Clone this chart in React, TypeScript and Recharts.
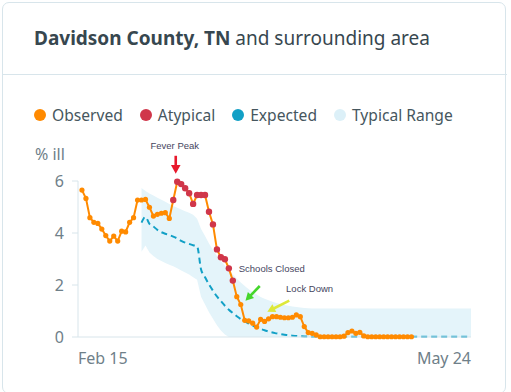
import React from 'react';
import {
  ComposedChart,
  Line,
  Area,
  XAxis,
  YAxis,
  ReferenceDot
} from 'recharts';

// Day 0 = Feb 15, day 99 = May 24
const xTicks = [0, 99];
const xTickLabels = ['Feb 15', 'May 24'];
const yTicks = [0, 2, 4, 6];

// Observed % ill, one value per day starting at day 1 (Feb 16)
const observedStart = 1;
const observed = [
  5.65, 5.33, 4.59, 4.41, 4.37, 4.15, 3.9, 3.69, 3.88, 3.69,
  4.07, 4.04, 4.41, 4.59, 5.27, 5.27, 5.29, 4.99, 4.65, 4.72,
  4.76, 4.78, 4.56, 5.27, 5.97, 5.88, 5.72, 5.53, 5.12, 5.46,
  5.46, 5.46, 4.82, 4.33, 3.37, 3.07, 2.99, 2.64, 2.17, 1.55,
  1.25, 0.64, 0.62, 0.53, 0.38, 0.68, 0.6, 0.7, 0.78, 0.78,
  0.76, 0.74, 0.74, 0.76, 0.85, 0.78, 0.4, 0.17, 0.14, 0.08,
  0.01, 0.01, 0.01, 0.01, 0.01, 0.01, 0.03, 0.17, 0.23, 0.14,
  0.18, 0.04, 0.01, 0.01, 0.01, 0.01, 0.01, 0.01, 0.01, 0.01,
  0.01, 0.01, 0.01, 0.01
];

// days flagged as atypical
const atypicalDays = [24, 25, 26, 27, 28, 29, 30, 31, 32, 33, 34, 35, 36, 37, 38, 39];

// Expected and typical range, from day 16 to day 99
const modelStart = 16;
const expected = [
  4.4, 4.62, 4.35, 4.25, 4.12, 4.03, 3.97, 3.92, 3.86, 3.79,
  3.7, 3.63, 3.58, 3.53, 3.49, 2.6, 2.3, 2.02, 1.78, 1.56,
  1.38, 1.2, 1.05, 0.92, 0.8, 0.69, 0.6, 0.52, 0.44, 0.37,
  0.31, 0.26, 0.21, 0.17, 0.14, 0.11, 0.09, 0.07, 0.05, 0.04,
  0.03, 0.02, 0.02, 0.01, 0.01, 0.01, 0.01, 0.01, 0.01, 0.01,
  0.01, 0.01, 0.01, 0.01, 0.01, 0.01, 0.01, 0.01, 0.01, 0.01,
  0.01, 0.01, 0.01, 0.01, 0.01, 0.01, 0.01, 0.01, 0.01, 0.01,
  0.01, 0.01, 0.01, 0.01, 0.01, 0.01, 0.01, 0.01, 0.01, 0.01,
  0.01, 0.01, 0.01, 0.01
];
const rangeHigh = [
  5.73, 5.62, 5.52, 5.44, 5.36, 5.28, 5.2, 5.12, 5.04, 4.97,
  4.9, 4.84, 4.78, 4.7, 4.55, 4.15, 3.88, 3.6, 3.35, 3.12,
  2.92, 2.74, 2.56, 2.4, 2.24, 2.1, 1.96, 1.84, 1.73, 1.63,
  1.54, 1.47, 1.41, 1.36, 1.31, 1.27, 1.23, 1.2, 1.17, 1.15,
  1.13, 1.12, 1.11, 1.1, 1.1, 1.1, 1.1, 1.1, 1.1, 1.1,
  1.1, 1.1, 1.1, 1.1, 1.1, 1.1, 1.1, 1.1, 1.1, 1.1,
  1.1, 1.1, 1.1, 1.1, 1.1, 1.1, 1.1, 1.1, 1.1, 1.1,
  1.1, 1.1, 1.1, 1.1, 1.1, 1.1, 1.1, 1.1, 1.1, 1.1,
  1.1, 1.1, 1.1, 1.1
];
const rangeLow = [
  3.28, 3.52, 3.25, 3.12, 3.0, 2.92, 2.85, 2.78, 2.72, 2.64,
  2.56, 2.48, 2.4, 2.3, 2.2, 1.55, 1.25, 0.95, 0.7, 0.45,
  0.25, 0.1, 0, 0, 0, 0, 0, 0, 0, 0,
  0, 0, 0, 0, 0, 0, 0, 0, 0, 0,
  0, 0, 0, 0, 0, 0, 0, 0, 0, 0,
  0, 0, 0, 0, 0, 0, 0, 0, 0, 0,
  0, 0, 0, 0, 0, 0, 0, 0, 0, 0,
  0, 0, 0, 0, 0, 0, 0, 0, 0, 0,
  0, 0, 0, 0
];

const ORANGE = '#ff8a00';
const RED = '#d0364a';
const TEAL = '#12a0c6';
const BAND = '#e4f4fa';
const AXIS = '#d8e5eb';
const TICK_TEXT = '#6f8089';
const FONT = '"Noto Sans", sans-serif';
const NOTE_FONT = '"Liberation Sans", sans-serif';

const totalDays = 100;
const rows: any[] = [];
for (let d = 0; d < totalDays; d++) {
  const oi = d - observedStart;
  const mi = d - modelStart;
  const obs = oi >= 0 && oi < observed.length ? observed[oi] : null;
  const hasModel = mi >= 0 && mi < expected.length;
  rows.push({
    day: d,
    observed: obs,
    atypical: atypicalDays.includes(d) ? obs : null,
    expected: hasModel ? expected[mi] : null,
    range: hasModel ? [rangeLow[mi], rangeHigh[mi]] : null
  });
}

const legendItems = [
  { label: 'Observed', color: ORANGE },
  { label: 'Atypical', color: RED },
  { label: 'Expected', color: TEAL },
  { label: 'Typical Range', color: '#dcf0f8' }
];

const XTick = (props: any) => {
  const { x, y, payload, index } = props;
  const i = xTicks.indexOf(payload.value);
  return (
    <text
      x={x}
      y={y + 19}
      textAnchor={index === 0 ? 'start' : 'end'}
      fill={TICK_TEXT}
      fontSize={16}
      fontFamily={FONT}
    >
      {xTickLabels[i]}
    </text>
  );
};

const ObservedDot = (props: any) => {
  const { cx, cy, value, index } = props;
  if (value == null || cx == null) return <g key={`o-${index}`} />;
  return <circle key={`o-${index}`} cx={cx} cy={cy} r={2.6} fill={ORANGE} />;
};

const AtypicalDot = (props: any) => {
  const { cx, cy, value, index } = props;
  if (value == null || cx == null) return <g key={`a-${index}`} />;
  return <circle key={`a-${index}`} cx={cx} cy={cy} r={3.2} fill={RED} />;
};

// arrow drawn relative to the anchor point
const Arrow = ({ x1, y1, x2, y2, color, width, head }: any) => {
  const ang = Math.atan2(y2 - y1, x2 - x1);
  const spread = 0.5;
  const bx = x2 - head * 0.8 * Math.cos(ang);
  const by = y2 - head * 0.8 * Math.sin(ang);
  const p1 = `${x2 - head * Math.cos(ang - spread)},${y2 - head * Math.sin(ang - spread)}`;
  const p2 = `${x2 - head * Math.cos(ang + spread)},${y2 - head * Math.sin(ang + spread)}`;
  return (
    <g>
      <line x1={x1} y1={y1} x2={bx} y2={by} stroke={color} strokeWidth={width} />
      <polygon points={`${x2},${y2} ${p1} ${p2}`} fill={color} />
    </g>
  );
};

const makeNote = (text: string, color: string, tx: number, ty: number, ax1: number, ay1: number, ax2: number, ay2: number, head: number) =>
  (props: any) => {
    const { cx, cy } = props;
    return (
      <g>
        <text x={cx + tx} y={cy + ty} textAnchor="middle" fontSize={9.5} fill="#45455e" fontFamily={NOTE_FONT}>
          {text}
        </text>
        <Arrow x1={cx + ax1} y1={cy + ay1} x2={cx + ax2} y2={cy + ay2} color={color} width={2.6} head={head} />
      </g>
    );
  };

export default function App() {
  return (
    <div style={{ position: 'absolute', left: 0, top: 0, width: 511, height: 392, background: '#fff', fontFamily: FONT }}>
      {/* card */}
      <div
        style={{
          position: 'absolute',
          left: 2,
          top: 2,
          width: 504,
          height: 392,
          border: `1px solid ${AXIS}`,
          borderRadius: 7,
          boxSizing: 'border-box'
        }}
      />
      <div style={{ position: 'absolute', left: 3, top: 74, width: 504, height: 1, background: AXIS }} />

      <div style={{ position: 'absolute', left: 34, top: 25, fontSize: 19, color: '#37474f', whiteSpace: 'nowrap' }}>
        <span style={{ fontWeight: 700 }}>Davidson County, TN</span> and surrounding area
      </div>

      {/* legend */}
      <div style={{ position: 'absolute', left: 34, top: 104, display: 'flex', alignItems: 'center', whiteSpace: 'nowrap' }}>
        {legendItems.map((item) => (
          <div key={item.label} style={{ display: 'flex', alignItems: 'center', marginRight: 17 }}>
            <div style={{ width: 12, height: 12, borderRadius: 6, background: item.color, marginRight: 6 }} />
            <span style={{ fontSize: 15.6, color: '#46565e' }}>{item.label}</span>
          </div>
        ))}
      </div>

      <div style={{ position: 'absolute', left: 35, top: 143, fontSize: 16, color: TICK_TEXT }}>% ill</div>

      <div style={{ position: 'absolute', left: 0, top: 130 }}>
        <ComposedChart width={511} height={250} data={rows} margin={{ top: 51, right: 40, bottom: 13, left: 0 }}>
          <XAxis
            dataKey="day"
            type="number"
            domain={[0, 99]}
            ticks={xTicks}
            tick={<XTick />}
            tickLine={false}
            stroke={AXIS}
            height={30}
            interval={0}
          />
          <YAxis
            type="number"
            domain={[0, 6]}
            ticks={yTicks}
            width={78}
            stroke={AXIS}
            tickSize={6}
            tickMargin={8}
            tick={{ fill: TICK_TEXT, fontSize: 16, fontFamily: FONT }}
          />
          <Area
            dataKey="range"
            type="linear"
            stroke="none"
            fill={BAND}
            fillOpacity={1}
            isAnimationActive={false}
            activeDot={false}
          />
          <Line
            dataKey="expected"
            type="monotone"
            stroke={TEAL}
            strokeWidth={2}
            strokeDasharray="6 4"
            dot={false}
            activeDot={false}
            isAnimationActive={false}
          />
          <Line
            dataKey="observed"
            type="linear"
            stroke={ORANGE}
            strokeWidth={2}
            dot={<ObservedDot />}
            activeDot={false}
            isAnimationActive={false}
          />
          <Line
            dataKey="atypical"
            type="linear"
            stroke="none"
            dot={<AtypicalDot />}
            activeDot={false}
            isAnimationActive={false}
          />
          <ReferenceDot
            x={25}
            y={5.97}
            shape={makeNote('Fever Peak', '#e8192c', -2.5, -33, -1.5, -26, -1.5, -8, 10)}
          />
          <ReferenceDot
            x={41}
            y={1.25}
            shape={makeNote('Schools Closed', '#44d62c', 31, -33, 19, -18.5, 4.7, -3.8, 9)}
          />
          <ReferenceDot
            x={47}
            y={0.6}
            shape={makeNote('Lock Down', '#dde83a', 45, -29, 24.7, -20.7, 2.7, -9.7, 9)}
          />
        </ComposedChart>
      </div>
    </div>
  );
}
